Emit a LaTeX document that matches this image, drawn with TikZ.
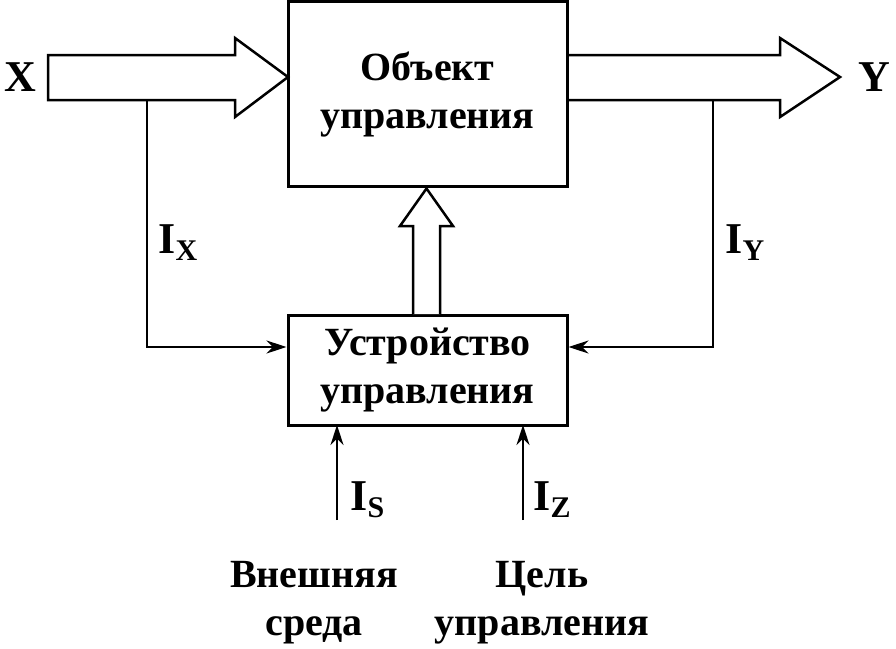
\documentclass[tikz,border=0pt]{standalone}
\usepackage{fontspec}
\setmainfont{Liberation Serif}
\usetikzlibrary{arrows.meta}
\begin{document}
\begin{tikzpicture}[x=1pt,y=-1pt,
  box/.style={draw,line width=3pt,inner sep=0pt},
  txt/.style={font=\bfseries\fontsize{40}{48}\selectfont,align=center},
  lbl/.style={font=\bfseries\fontsize{44}{46}\selectfont},
  hollow/.style={draw,line width=2.5pt,fill=white,line join=miter},
  sig/.style={line width=2pt,-{Stealth[length=20pt,width=13pt]}}]
\useasboundingbox (0,0) rectangle (896,648);
\node[box,minimum width=279pt,minimum height=185pt] (obj) at (427.5,94) {};
\node[txt] at (obj) {Объект\\управления};
\node[box,minimum width=279pt,minimum height=110pt] (dev) at (427.5,370) {};
\node[txt] at (dev) {Устройство\\управления};
% big arrows
\draw[hollow] (48,55) -- (235,55) -- (235,38) -- (288,77) -- (235,117) -- (235,100) -- (48,100) -- cycle;
\draw[hollow] (569,55) -- (780,55) -- (780,38) -- (840,77) -- (780,117) -- (780,100) -- (569,100);
\draw[hollow] (413,314) -- (413,226) -- (400,226) -- (426.5,188.5) -- (453,226) -- (440,226) -- (440,314);
\node[lbl] (X) at (20,77) {X};
\node[lbl] (Y) at (874,77) {Y};
\coordinate (ix) at (147,101);
\coordinate (iy) at (713,101);
\draw[sig] (ix) |- (dev.west|-0,347);
\draw[sig] (iy) |- (dev.east|-0,347);
\coordinate (is) at (337,520);
\coordinate (iz) at (523,520);
\draw[sig] (is) -- (337,425);
\draw[sig] (iz) -- (523,425);
\node[lbl,anchor=west] at (155,243) {I\raisebox{-7pt}{\fontsize{30}{32}\selectfont X}};
\node[lbl,anchor=west] at (722,243) {I\raisebox{-7pt}{\fontsize{30}{32}\selectfont Y}};
\node[lbl,anchor=west] at (347,500) {I\raisebox{-7pt}{\fontsize{30}{32}\selectfont S}};
\node[lbl,anchor=west] at (530,500) {I\raisebox{-7pt}{\fontsize{30}{32}\selectfont Z}};
\node[txt] at (314,603) {Внешняя\\среда};
\node[txt] at (542,603) {Цель\\управления};
\end{tikzpicture}
\end{document}
